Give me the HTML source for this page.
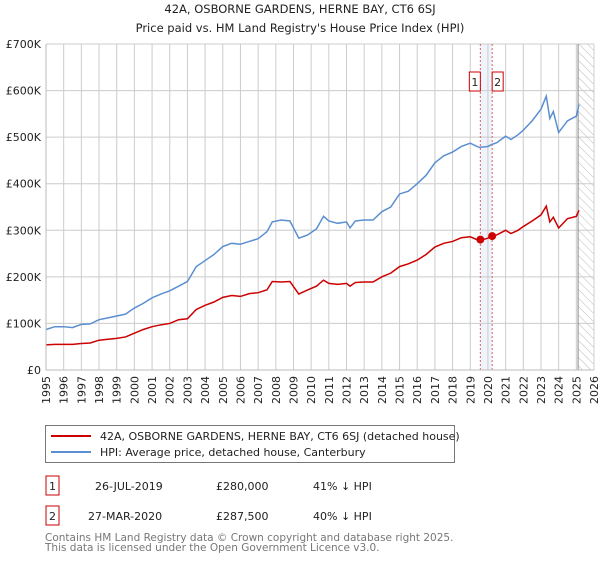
<!DOCTYPE html>
<html><head><meta charset="utf-8">
<style>
body{margin:0;background:#fff;font-family:"Liberation Sans","DejaVu Sans",sans-serif;}
svg text{font-family:"DejaVu Sans","Liberation Sans",sans-serif;}
</style></head>
<body>
<svg id="chart" width="600" height="560" xmlns="http://www.w3.org/2000/svg">
<defs><pattern id="hatch" width="6" height="6" patternUnits="userSpaceOnUse" patternTransform="rotate(-45)"><line x1="0" y1="0" x2="0" y2="6" stroke="#bbb" stroke-width="1"/></pattern></defs>
<text x="300" y="13" text-anchor="middle" font-size="11.5" fill="#222">42A, OSBORNE GARDENS, HERNE BAY, CT6 6SJ</text>
<text x="300" y="32" text-anchor="middle" font-size="11.5" fill="#222">Price paid vs. HM Land Registry's House Price Index (HPI)</text>
<g id="grid"></g>
<g id="marks"></g>
<g id="axes"></g>
<rect x="45.5" y="425.5" width="409" height="37" fill="#fff" stroke="#777"/>
<line x1="51" y1="436" x2="91" y2="436" stroke="#cc0000" stroke-width="2"/>
<text x="100" y="440" font-size="11" fill="#222">42A, OSBORNE GARDENS, HERNE BAY, CT6 6SJ (detached house)</text>
<line x1="51" y1="452" x2="91" y2="452" stroke="#5b8fd0" stroke-width="2"/>
<text x="100" y="456" font-size="11" fill="#222">HPI: Average price, detached house, Canterbury</text>
<rect x="46" y="476" width="13" height="19" fill="#fff" stroke="#cc0000"/>
<text x="52.5" y="490" text-anchor="middle" font-size="11" fill="#222">1</text>
<text x="95" y="490" font-size="11" fill="#222">26-JUL-2019</text>
<text x="216" y="490" font-size="11" fill="#222">£280,000</text>
<text x="313" y="490" font-size="11" fill="#222">41% ↓ HPI</text>
<rect x="46" y="506" width="13" height="19" fill="#fff" stroke="#cc0000"/>
<text x="52.5" y="520" text-anchor="middle" font-size="11" fill="#222">2</text>
<text x="88" y="520" font-size="11" fill="#222">27-MAR-2020</text>
<text x="216" y="520" font-size="11" fill="#222">£287,500</text>
<text x="313" y="520" font-size="11" fill="#222">40% ↓ HPI</text>
<text x="45" y="541" font-size="10.5" fill="#777">Contains HM Land Registry data © Crown copyright and database right 2025.</text>
<text x="45" y="551" font-size="10.5" fill="#777">This data is licensed under the Open Government Licence v3.0.</text>
</svg>
<script>
const hpiYears=[1995,1995.5,1996,1996.5,1997,1997.5,1998,1998.5,1999,1999.5,2000,2000.5,2001,2001.5,2002,2002.5,2003,2003.5,2004,2004.5,2005,2005.5,2006,2006.5,2007,2007.5,2007.8,2008.3,2008.8,2009.3,2009.8,2010.3,2010.7,2011,2011.5,2012,2012.2,2012.5,2013,2013.5,2014,2014.5,2015,2015.5,2016,2016.5,2017,2017.5,2018,2018.5,2019,2019.5,2020,2020.2,2020.5,2021,2021.3,2021.7,2022,2022.5,2023,2023.3,2023.5,2023.7,2024,2024.5,2025,2025.15];
const hpiValues=[87,93,93,91,98,99,108,112,116,120,133,143,155,163,170,180,190,222,235,248,265,272,270,276,282,297,318,322,320,283,290,303,330,320,315,318,305,320,322,322,340,350,378,384,400,418,445,460,468,480,487,478,480,484,488,502,495,505,515,535,560,588,540,555,510,535,545,570];
const priceValues=[54,55,55,55,57,58,64,66,68,71,79,87,93,97,100,108,110,130,139,146,156,160,158,164,166,172,190,189,190,163,172,180,193,186,184,186,180,188,189,189,200,208,222,228,236,248,264,272,276,284,286,278,283,287,290,300,293,300,308,320,333,352,318,328,305,325,330,343];
const saleDates=[2019.57,2020.24];
const salePrices=[280,287.5];
const yTicks=[0,100,200,300,400,500,600,700];
const yTickLabels=["£0","£100K","£200K","£300K","£400K","£500K","£600K","£700K"];
const xTicks=[1995,1996,1997,1998,1999,2000,2001,2002,2003,2004,2005,2006,2007,2008,2009,2010,2011,2012,2013,2014,2015,2016,2017,2018,2019,2020,2021,2022,2023,2024,2025,2026];

const NS="http://www.w3.org/2000/svg";
const X0=46,X1=594,Y0=370,Y1=44;
function xs(t){return X0+(t-1995)/(2026-1995)*(X1-X0);}
function ys(v){return Y0-v/700*(Y0-Y1);}
function mk(tag,attrs,parent){const e=document.createElementNS(NS,tag);for(const k in attrs)e.setAttribute(k,attrs[k]);parent.appendChild(e);return e;}
const grid=document.getElementById('grid'),marks=document.getElementById('marks'),axes=document.getElementById('axes');
const band=mk('rect',{x:xs(saleDates[0]),y:Y1,width:xs(saleDates[1])-xs(saleDates[0]),height:Y0-Y1,fill:'#eef3fc'},grid);


const hatch=mk('rect',{x:xs(2025.1),y:Y1,width:X1-xs(2025.1),height:Y0-Y1,fill:'url(#hatch)'},grid);


xTicks.forEach((t,i)=>{
 const l=mk('line',{x1:xs(t),x2:xs(t),y1:Y1,y2:Y0,stroke:'#ccc','stroke-width':1},grid);
 
 
 const tx=mk('text',{x:0,y:0,'font-size':11,fill:'#222','text-anchor':'end',transform:`translate(${xs(t)+4},${Y0+6}) rotate(-90)`},axes);
 tx.textContent=t;
 
 
});
yTicks.forEach((v,i)=>{
 const l=mk('line',{x1:X0,x2:X1,y1:ys(v),y2:ys(v),stroke:'#ccc','stroke-width':1},grid);
 
 
 const tx=mk('text',{x:X0-5,y:ys(v)+4,'font-size':11,fill:'#222','text-anchor':'end'},axes);
 tx.textContent=yTickLabels[i];
 
 
});
const edge=mk('line',{x1:xs(2025.1),x2:xs(2025.1),y1:Y1,y2:Y0,stroke:'#888','stroke-width':1},grid);


const ax=mk('path',{d:`M${X0},${Y1}V${Y0}H${X1}`,fill:'none',stroke:'#bbb'},axes);


saleDates.forEach((d,i)=>{
 const l=mk('line',{x1:xs(d),x2:xs(d),y1:Y1,y2:Y0,stroke:'#e06060','stroke-dasharray':'2,2','stroke-width':1},marks);
 
 
});
function line(vals,color,name){
 const p=mk('polyline',{points:hpiYears.map((t,i)=>xs(t)+','+ys(vals[i])).join(' '),fill:'none',stroke:color,'stroke-width':1.5},marks);
 
 
}
line(hpiValues,'#5b8fd0','hpi-line');
line(priceValues,'#cc0000','property-price-line');
saleDates.forEach((d,i)=>{
 const c=mk('circle',{cx:xs(d),cy:ys(salePrices[i]),r:4,fill:'#cc0000'},marks);
 
 
 const bx=xs(d)-(i===0?11:0);
 const r=mk('rect',{x:bx,y:72,width:11,height:19,fill:'#fff',stroke:'#cc0000'},marks);
 
 
 const t=mk('text',{x:bx+5.5,y:86,'font-size':11,fill:'#222','text-anchor':'middle'},marks);
 t.textContent=String(i+1);
 
 
});
</script>
</body></html>
